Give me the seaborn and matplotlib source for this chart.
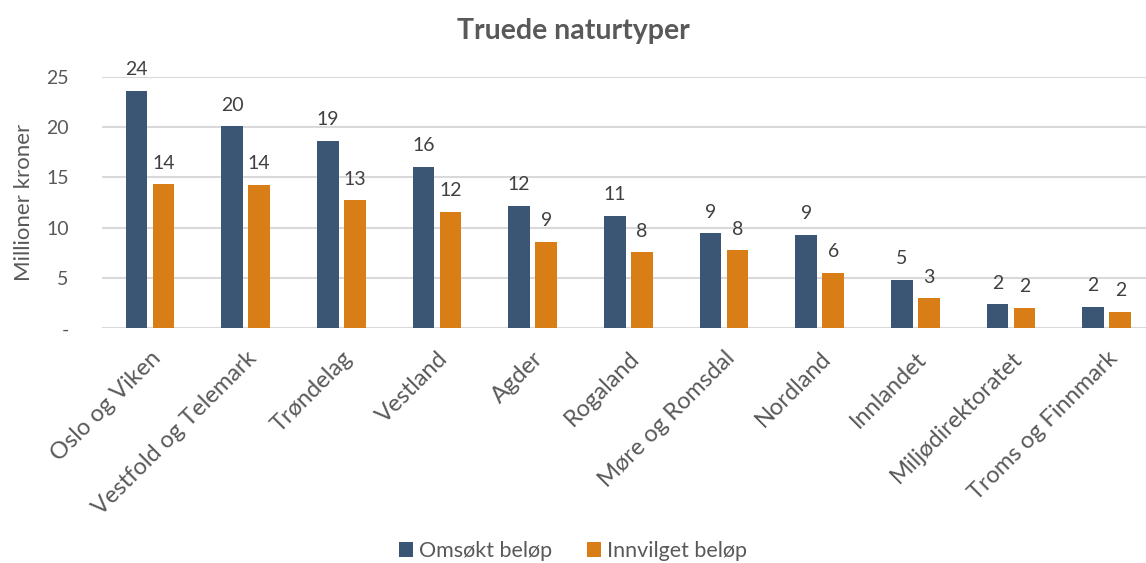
import matplotlib
matplotlib.use("Agg")
import matplotlib.pyplot as plt
import seaborn as sns
import pandas as pd

regions = ["Oslo og Viken", "Vestfold og Telemark", "Trøndelag", "Vestland", "Agder",
           "Rogaland", "Møre og Romsdal", "Nordland", "Innlandet", "Miljødirektoratet",
           "Troms og Finnmark"]
omsokt = [23.6, 20.1, 18.65, 16.06, 12.16, 11.16, 9.44, 9.3, 4.83, 2.38, 2.15]
innvilget = [14.3, 14.25, 12.7, 11.56, 8.58, 7.55, 7.75, 5.52, 3.01, 2.05, 1.62]
series = ["Omsøkt beløp", "Innvilget beløp"]
yticks = [0, 5, 10, 15, 20, 25]
yticklabels = ["-", "5", "10", "15", "20", "25"]

df = pd.DataFrame({
    "region": regions * 2,
    "verdi": omsokt + innvilget,
    "serie": [series[0]] * len(regions) + [series[1]] * len(regions),
})

sns.set_theme(style="white")
plt.rcParams["font.family"] = ["Lato", "DejaVu Sans"]

txt = "#595959"
fig = plt.figure(figsize=(11.46, 5.63), dpi=100)
ax = fig.add_axes([102 / 1146, 1 - 328.3 / 563, 1 - 102 / 1146, (328.3 - 76.7) / 563])

sns.barplot(data=df, x="region", y="verdi", hue="serie", order=regions, hue_order=series,
            palette=["#3A5674", "#D97E16"], width=0.565, gap=0.2, ax=ax,
            edgecolor="none", saturation=1, legend=True)

ax.set_xlim(-0.5, 10.41)
ax.set_ylim(0, 25)
ax.set_yticks(yticks)
ax.set_yticklabels(yticklabels)
ax.grid(axis="y", color="#D9D9D9", linewidth=1.5)
ax.set_axisbelow(True)
for s in ax.spines.values():
    s.set_visible(False)
ax.tick_params(axis="y", length=0, pad=24, labelsize=14, labelcolor=txt)
ax.tick_params(axis="x", length=0, pad=14, labelsize=17, labelcolor=txt)
for lab in ax.get_xticklabels():
    lab.set_rotation(45)
    lab.set_ha("right")
    lab.set_rotation_mode("anchor")
ax.set_xlabel("")
ax.set_ylabel("Millioner kroner", fontsize=16, color=txt, labelpad=9)

for cont in ax.containers:
    vals = [b.get_height() for b in cont]
    ax.bar_label(cont, labels=[f"{v:.0f}" for v in vals], padding=9,
                 fontsize=14, color="#404040", clip_on=False)

fig.suptitle("Truede naturtyper", x=0.5, y=0.968, fontsize=20.5, fontweight="bold", color=txt)

handles, labels = ax.get_legend_handles_labels()
ax.get_legend().remove()
fig.legend(handles, labels, loc="center", bbox_to_anchor=(0.5, 1 - 551 / 563), ncol=2,
           frameon=False, fontsize=15.5, labelcolor=txt, handlelength=0.65,
           handleheight=0.65, handletextpad=0.3, columnspacing=1.6)

fig.savefig("out.png", dpi=100)
